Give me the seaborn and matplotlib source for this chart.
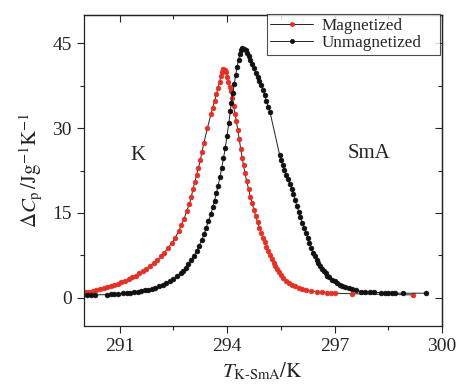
import matplotlib
matplotlib.use("Agg")
import matplotlib.pyplot as plt
import seaborn as sns
import pandas as pd
from matplotlib.ticker import MultipleLocator

# valores (T en K, ΔCp en J/gK)
mag_T = [290.05, 290.15, 290.25, 290.35, 290.45, 290.55, 290.65, 290.75, 290.85, 290.95,
         291.05, 291.15, 291.25, 291.35, 291.45, 291.55, 291.65, 291.75, 291.85, 291.95,
         292.05, 292.15, 292.25, 292.35, 292.45, 292.55, 292.65, 292.72, 292.8, 292.87,
         292.95, 293.0, 293.05, 293.1, 293.15, 293.2, 293.25, 293.3, 293.35, 293.45,
         293.55, 293.6, 293.65, 293.7, 293.75, 293.79, 293.83, 293.87, 293.9, 293.93,
         293.96, 294.0, 294.03, 294.07, 294.1, 294.14, 294.18, 294.22, 294.26, 294.3,
         294.34, 294.38, 294.42, 294.46, 294.5, 294.55, 294.6, 294.65, 294.7, 294.75,
         294.8, 294.85, 294.9, 294.95, 295.0, 295.05, 295.1, 295.15, 295.2, 295.25,
         295.3, 295.35, 295.4, 295.45, 295.5, 295.57, 295.65, 295.72, 295.8, 295.9,
         296.0, 296.1, 296.2, 296.35, 296.5, 296.65, 296.8, 296.9, 297.0, 297.5,
         299.2]
mag_Cp = [1.0, 1.1, 1.2, 1.4, 1.5, 1.7, 1.9, 2.1, 2.3, 2.5,
          2.8, 3.0, 3.3, 3.6, 3.9, 4.3, 4.7, 5.1, 5.6, 6.1,
          6.7, 7.3, 8.0, 8.8, 9.6, 10.6, 11.8, 12.8, 14.0, 15.3,
          16.6, 17.8, 19.3, 20.4, 21.8, 23.0, 24.3, 25.8, 27.3, 30.0,
          32.5, 33.6, 34.8, 36.0, 37.2, 38.2, 39.2, 40.0, 40.4, 40.3,
          39.9, 39.0, 38.2, 37.3, 36.5, 35.3, 34.0, 32.6, 31.2, 29.6,
          28.0, 26.4, 24.8, 23.4, 22.0, 20.6, 19.2, 17.9, 16.7, 15.5,
          14.4, 13.4, 12.4, 11.5, 10.6, 9.8, 9.0, 8.2, 7.5, 6.8,
          6.2, 5.6, 5.0, 4.5, 4.0, 3.5, 3.0, 2.6, 2.3, 2.0,
          1.7, 1.5, 1.4, 1.2, 1.1, 1.0, 0.9, 0.85, 0.8, 0.7,
          0.5]

unmag_T = [290.1, 290.2, 290.3, 290.65, 290.75, 290.85, 290.95, 291.1, 291.2, 291.3,
           291.4, 291.5, 291.6, 291.7, 291.8, 291.9, 292.0, 292.1, 292.2, 292.3,
           292.4, 292.5, 292.6, 292.7, 292.78, 292.85, 292.92, 293.0, 293.07, 293.15,
           293.22, 293.3, 293.36, 293.42, 293.48, 293.55, 293.6, 293.65, 293.7, 293.75,
           293.8, 293.85, 293.9, 293.95, 294.0, 294.05, 294.09, 294.12, 294.16, 294.2,
           294.24, 294.28, 294.32, 294.36, 294.4, 294.43, 294.47, 294.52, 294.56, 294.6,
           294.65, 294.7, 294.75, 294.8, 294.85, 294.9, 294.95, 295.0, 295.05, 295.1,
           295.15, 295.2, 295.47, 295.51, 295.55, 295.6, 295.65, 295.7, 295.75, 295.8,
           295.85, 295.9, 295.95, 296.0, 296.05, 296.1, 296.15, 296.2, 296.25, 296.3,
           296.35, 296.4, 296.45, 296.5, 296.55, 296.6, 296.65, 296.7, 296.75, 296.8,
           296.85, 296.92, 297.0, 297.07, 297.15, 297.22, 297.3, 297.4, 297.5, 297.6,
           297.75, 297.85, 298.0, 298.1, 298.3, 298.4, 298.5, 298.6, 298.7, 298.9,
           299.55]
unmag_Cp = [0.5, 0.5, 0.5, 0.55, 0.6, 0.65, 0.7, 0.8, 0.85, 0.9,
            1.0, 1.1, 1.2, 1.3, 1.45, 1.6, 1.8, 2.0, 2.3, 2.6,
            2.9, 3.3, 3.8, 4.3, 4.8, 5.3, 5.9, 6.6, 7.4, 8.2,
            9.2, 10.3, 11.3, 12.4, 13.6, 14.8, 16.0, 17.2, 18.5, 19.8,
            21.3, 23.0, 24.7, 26.5, 28.7, 31.0, 33.0, 34.5, 36.2, 37.8,
            39.4, 40.8, 42.1, 43.2, 43.9, 44.2, 44.1, 43.8, 43.3, 42.8,
            42.1, 41.4, 40.6, 39.8, 39.0, 38.3, 37.6, 36.8, 35.8, 34.8,
            33.8, 32.8, 25.2, 24.3, 23.5, 22.6, 21.7, 21.0, 20.2, 19.3,
            18.4, 17.3, 16.2, 15.2, 14.3, 13.3, 12.4, 11.5, 10.6, 9.7,
            8.8, 8.0, 7.3, 6.7, 6.1, 5.6, 5.1, 4.7, 4.3, 3.9,
            3.6, 3.2, 2.9, 2.6, 2.3, 2.1, 1.9, 1.7, 1.5, 1.3,
            1.1, 1.05, 1.0, 0.95, 0.9, 0.9, 0.85, 0.8, 0.8, 0.8,
            0.8]

labels = ["Magnetized", "Unmagnetized"]
colors = ["#e23228", "#111111"]

sns.set_style("ticks")
plt.rcParams["font.family"] = ["Liberation Serif", "DejaVu Serif"]
plt.rcParams["mathtext.fontset"] = "stix"

fig = plt.figure(figsize=(4.58, 3.89), dpi=100)
ax = fig.add_axes([0.183, 0.162, 0.782, 0.799])

series = [(mag_T, mag_Cp), (unmag_T, unmag_Cp)]
for (t, cp), lab, c in zip(series, labels, colors):
    df = pd.DataFrame({"T": t, "Cp": cp})
    sns.lineplot(data=df, x="T", y="Cp", ax=ax, sort=False, color="#222222",
                 lw=0.7, marker="o", markersize=3.4, markerfacecolor=c,
                 markeredgecolor=c, markeredgewidth=0.5, label=lab)

ax.set_xlim(290, 300)
ax.set_ylim(-5, 50)
ax.set_xticks([291, 294, 297, 300])
ax.set_yticks([0, 15, 30, 45])
ax.xaxis.set_minor_locator(MultipleLocator(1.5))
ax.yaxis.set_minor_locator(MultipleLocator(7.5))
ax.tick_params(which="both", labelsize=14, width=0.8, direction="out")
ax.tick_params(which="major", length=5)
ax.tick_params(which="minor", length=3)
for sp in ax.spines.values():
    sp.set_linewidth(0.9)
    sp.set_color("#222222")

# marcas hacia dentro arriba y a la derecha
top = ax.secondary_xaxis("top")
top.set_xticks([291, 294, 297, 300])
top.xaxis.set_minor_locator(MultipleLocator(1.5))
top.tick_params(which="both", direction="in", labeltop=False, width=0.8)
top.tick_params(which="major", length=5)
top.tick_params(which="minor", length=3)
right = ax.secondary_yaxis("right")
right.set_yticks([0, 15, 30, 45])
right.yaxis.set_minor_locator(MultipleLocator(7.5))
right.tick_params(which="both", direction="in", labelright=False, width=0.8)
right.tick_params(which="major", length=5)
right.tick_params(which="minor", length=3)
for s in (top, right):
    for sp in s.spines.values():
        sp.set_linewidth(0.9)
        sp.set_color("#222222")

ax.set_xlabel(r"$T_{\mathrm{K\text{-}SmA}}/\mathrm{K}$", fontsize=15, labelpad=4)
ax.set_ylabel(r"$\Delta C_{\mathrm{p}}\,/\mathrm{Jg}^{-1}\mathrm{K}^{-1}$", fontsize=15, labelpad=6)

ax.text(291.5, 25.2, "K", fontsize=15, ha="center", va="center")
ax.text(297.95, 25.5, "SmA", fontsize=15, ha="center", va="center")

leg = ax.legend(loc="upper left", bbox_to_anchor=(0.511, 0.0, 0.483, 1.003),
                mode="expand", fontsize=12.3, frameon=True, fancybox=False,
                edgecolor="#222222", borderaxespad=0, handlelength=2.5,
                borderpad=0.2, labelspacing=0.1, handletextpad=0.5)
leg.get_frame().set_linewidth(0.8)
for h in leg.legend_handles:
    h.set_markersize(3)

fig.savefig("out.png", dpi=100)
